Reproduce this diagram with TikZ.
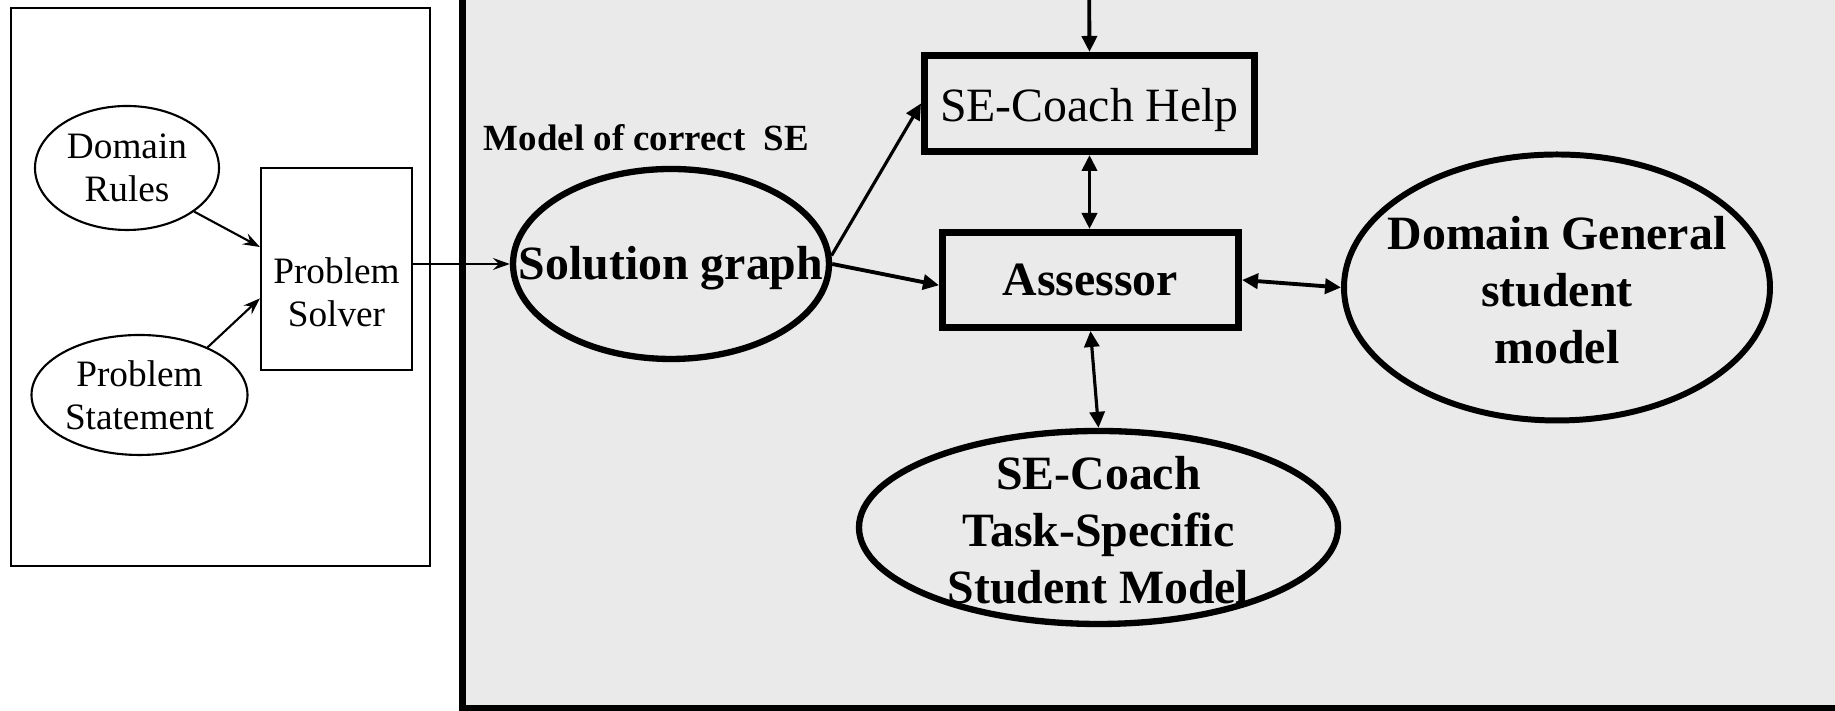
\documentclass[tikz,border=0pt]{standalone}
\usepackage{fontspec}
\setmainfont{Liberation Serif}
\usetikzlibrary{shapes.geometric,arrows.meta}
\definecolor{panelgray}{RGB}{234,234,234}

\begin{document}
\begin{tikzpicture}[
    smalltext/.style={font=\fontsize{10.6}{12.3}\selectfont, align=center},
    bigtext/.style={font=\fontsize{13.6}{16.2}\selectfont\bfseries, align=center},
    thinoval/.style={draw, ellipse, line width=.6pt, inner sep=0pt},
    thickoval/.style={draw, ellipse, line width=1.8pt, inner sep=0pt},
    thickbox/.style={draw, rectangle, line width=2pt, inner sep=0pt},
    flow/.style={-{Stealth[length=1.7mm,width=1.2mm,inset=.6mm]}, line width=.6pt},
    link/.style={-{Triangle[length=1.6mm,width=1.5mm]}, line width=1.1pt},
    twoway/.style={{Triangle[length=1.6mm,width=1.5mm]}-{Triangle[length=1.6mm,width=1.5mm]}, line width=1.1pt}
]
                \coordinate (LB) at (0,0);
                \coordinate (RT) at (18.35,7.11);
                \coordinate (help in) at (10.89,7.4);

                \useasboundingbox (LB) rectangle (RT);
                \clip (LB) rectangle (RT);
                \draw[line width=.6pt] (0.11,1.45) rectangle (4.30,7.03); % problem side
                \draw[line width=2pt, fill=panelgray] (4.625,0.025) rectangle (18.6,7.6); % coach side

                \node[thinoval, smalltext, minimum width=1.84cm, minimum height=1.24cm] (rules) at (1.27,5.43) {Domain\\Rules};
                \node[thinoval, smalltext, minimum width=2.16cm, minimum height=1.20cm] (statement) at (1.395,3.16) {Problem\\Statement};
                \node[draw, line width=.6pt, minimum width=1.51cm, minimum height=2.02cm] (solver) at (3.365,4.42) {};
                \node[smalltext] (solver text) at (3.365,4.19) {Problem\\Solver};

                \node[thickoval, minimum width=3.16cm, minimum height=1.90cm] (solution) at (6.71,4.47) {};
                \node[bigtext] (solution text) at (6.71,4.43) {Solution graph};
                \node[font=\fontsize{10.5}{12}\selectfont\bfseries] (model label) at (6.465,5.73) {Model of correct\ \ SE};

                \node[thickbox, minimum width=3.30cm, minimum height=0.96cm] (help) at (10.895,6.075) {};
                \node[font=\fontsize{13.6}{16.2}\selectfont] (help text) at (10.895,6.005) {SE-Coach Help};
                \node[thickbox, bigtext, minimum width=2.96cm, minimum height=0.95cm] (assessor) at (10.905,4.31) {Assessor};
                \node[thickoval, line width=1.7pt, minimum width=4.26cm, minimum height=2.66cm] (general) at (15.57,4.235) {};
                \node[bigtext] (general text) at (15.57,4.205) {Domain General\\student\\model};
                \node[thickoval, minimum width=4.79cm, minimum height=1.93cm] (task) at (10.985,1.835) {};
                \node[bigtext] (task text) at (10.985,1.81) {SE-Coach\\Task-Specific\\Student Model};

                \draw[flow] (rules.-33) -- (solver.164);
                \draw[flow] (statement.35) -- (solver.201);
                \draw[flow] (solver.east |- solution.west) -- (solution.west);
                \draw[link, line width=.9pt] (solution.3) -- (help.west);
                \draw[link] (solution.east) -- (assessor.182);
                \draw[link] (help in) -- (help.north);
                \draw[twoway] (help.south) -- (help.south |- assessor.north);
                \draw[twoway] (assessor.east) -- (general.west);
                \draw[twoway, line width=.9pt] (assessor.south) -- (task.north);
            \end{tikzpicture}
\end{document}
